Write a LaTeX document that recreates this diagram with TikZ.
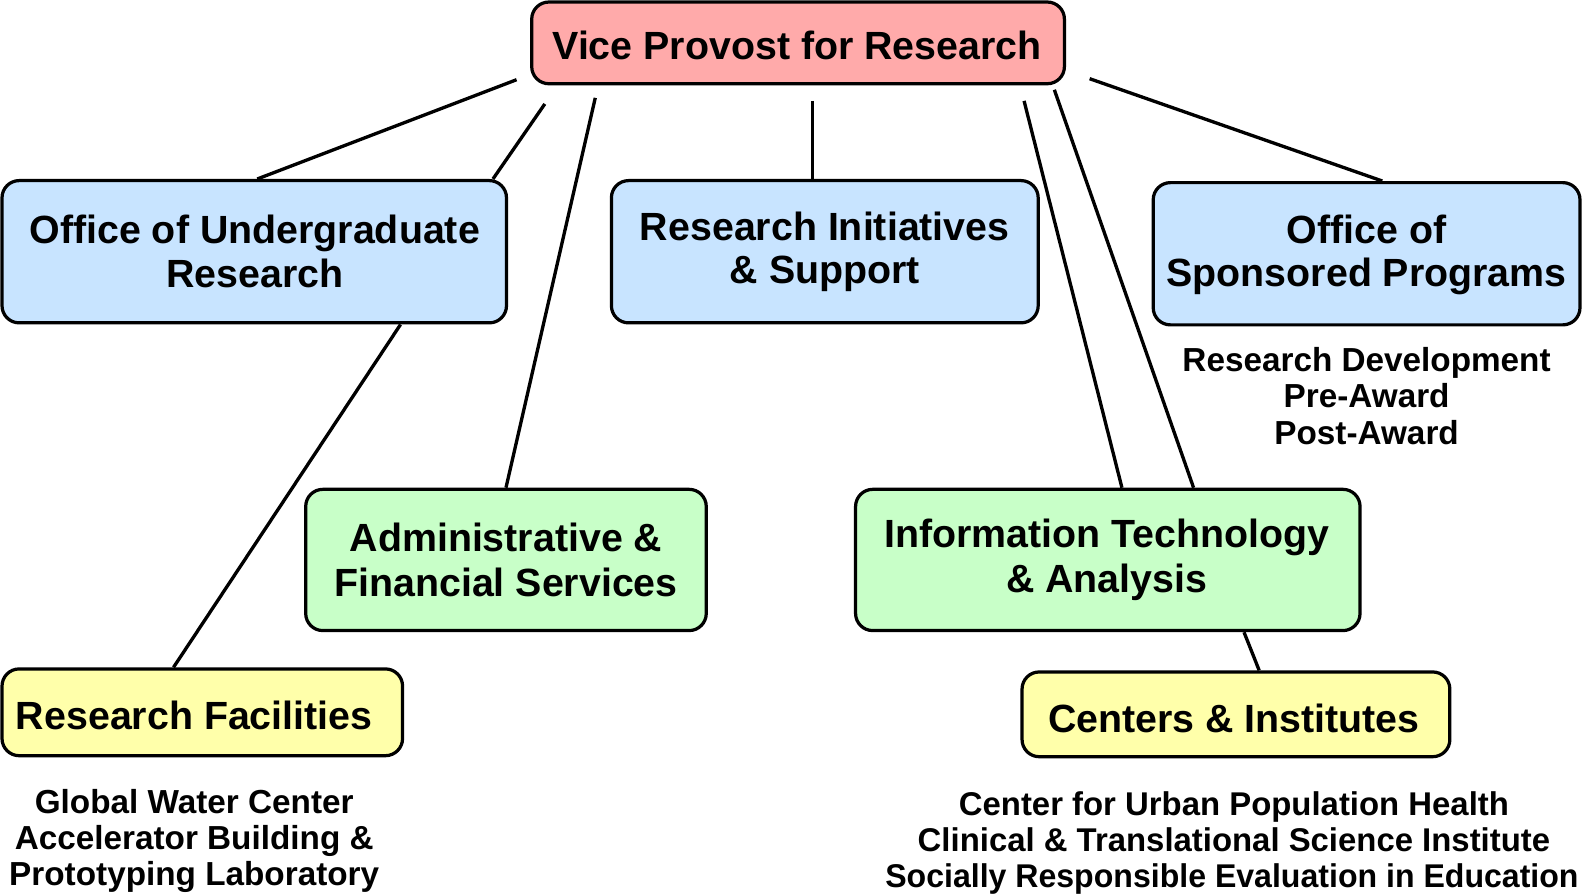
\documentclass[tikz,border=0pt]{standalone}
\usepackage{fontspec}
\setmainfont{Liberation Sans}
\definecolor{pinkfill}{RGB}{255,170,170}
\definecolor{bluefill}{RGB}{200,228,255}
\definecolor{greenfill}{RGB}{200,255,200}
\definecolor{yellowfill}{RGB}{255,255,170}
\pgfdeclarelayer{background}
\pgfsetlayers{background,main}
\begin{document}
\begin{tikzpicture}[x=1pt,y=-1pt,
  box/.style={draw=black, line width=3.2pt, rounded corners=17pt, inner sep=0pt},
  big/.style={font=\bfseries\fontsize{39}{44}\selectfont, inner sep=0pt, anchor=base},
  small/.style={font=\bfseries\fontsize{33}{36}\selectfont, inner sep=0pt, anchor=base},
  smallc/.style={font=\bfseries\fontsize{32.6}{36}\selectfont, inner sep=0pt, anchor=base},
  link/.style={draw=black, line width=3.3pt}]
\useasboundingbox (0,0) rectangle (1568,886);

% boxes
\node[box, fill=pinkfill, minimum width=528pt, minimum height=81pt] (vp) at (791,42.5) {};
\node[box, fill=bluefill, minimum width=500pt, minimum height=141pt] (our) at (252,249.5) {};
\node[box, fill=bluefill, minimum width=423pt, minimum height=141pt] (ris) at (817.5,249.5) {};
\node[box, fill=bluefill, minimum width=423pt, minimum height=141pt] (osp) at (1354.5,251.5) {};
\node[box, fill=greenfill, minimum width=397pt, minimum height=140pt] (afs) at (501.5,555) {};
\node[box, fill=greenfill, minimum width=500pt, minimum height=140pt] (ita) at (1098,555) {};
\node[box, fill=yellowfill, minimum width=397pt, minimum height=86pt] (rf) at (200.5,706) {};
\node[box, fill=yellowfill, minimum width=424pt, minimum height=84pt] (ci) at (1225,708) {};

% box texts
\node[big] (vpt) at (790,59) {Vice Provost for Research};
\node[big] (ourt1) at (252.5,241) {Office of Undergraduate};
\node[big] (ourt2) at (252.5,285) {Research};
\node[big] (rist1) at (817.5,238) {Research Initiatives};
\node[big] (rist2) at (817.5,281) {\& Support};
\node[big] (ospt1) at (1354.5,241) {Office of};
\node[big] (ospt2) at (1354.5,284) {Sponsored Programs};
\node[big] (afst1) at (501.5,547) {Administrative \&};
\node[big] (afst2) at (501.5,591) {Financial Services};
\node[big] (itat1) at (1097,543) {Information Technology};
\node[big] (itat2) at (1097,587) {\& Analysis};
\node[big] (rft) at (192.5,723) {Research Facilities};
\node[big] (cit) at (1223,726) {Centers \& Institutes};

% sub-labels
\node[small] (osps1) at (1354.5,368) {Research Development};
\node[small] (osps2) at (1354.5,404) {Pre-Award};
\node[small] (osps3) at (1354.5,441) {Post-Award};
\node[small] (rfs1) at (192.5,806) {Global Water Center};
\node[small] (rfs2) at (192.5,842) {Accelerator Building \&};
\node[small] (rfs3) at (192.5,878) {Prototyping Laboratory};
\node[smallc] (cis1) at (1223,808) {Center for Urban Population Health};
\node[smallc] (cis2) at (1223,844) {Clinical \& Translational Science Institute};
\node[smallc] (cis3) at (1221,880) {\scalebox{0.975}[1]{Socially Responsible Evaluation in Education}};

% free ends near the Vice Provost box
\coordinate (v1) at (512,79);
\coordinate (v2) at (540,103);
\coordinate (v3) at (590,97);
\coordinate (v4) at (805,100);
\coordinate (v5) at (1015,100);
\coordinate (v6) at (1045,89);
\coordinate (v7) at (1080,78);

\begin{pgfonlayer}{background}
\draw[link] (v1) -- ([xshift=3pt]our.north);
\draw[link] (v2) -- ([xshift=-15pt]our.north east);
\draw[link] (v3) -- (afs.north);
\draw[link] (v4) -- ([xshift=-12.5pt]ris.north);
\draw[link] (v5) -- ([xshift=14pt]ita.north);
\draw[link] (v6) -- ([xshift=85pt]ita.north);
\draw[link] (v7) -- ([xshift=15.5pt]osp.north);
\draw[link] ([xshift=145pt]our.south) -- ([xshift=-28.5pt]rf.north);
\draw[link] ([xshift=135pt]ita.south) -- ([xshift=23pt]ci.north);
\end{pgfonlayer}
\end{tikzpicture}
\end{document}
